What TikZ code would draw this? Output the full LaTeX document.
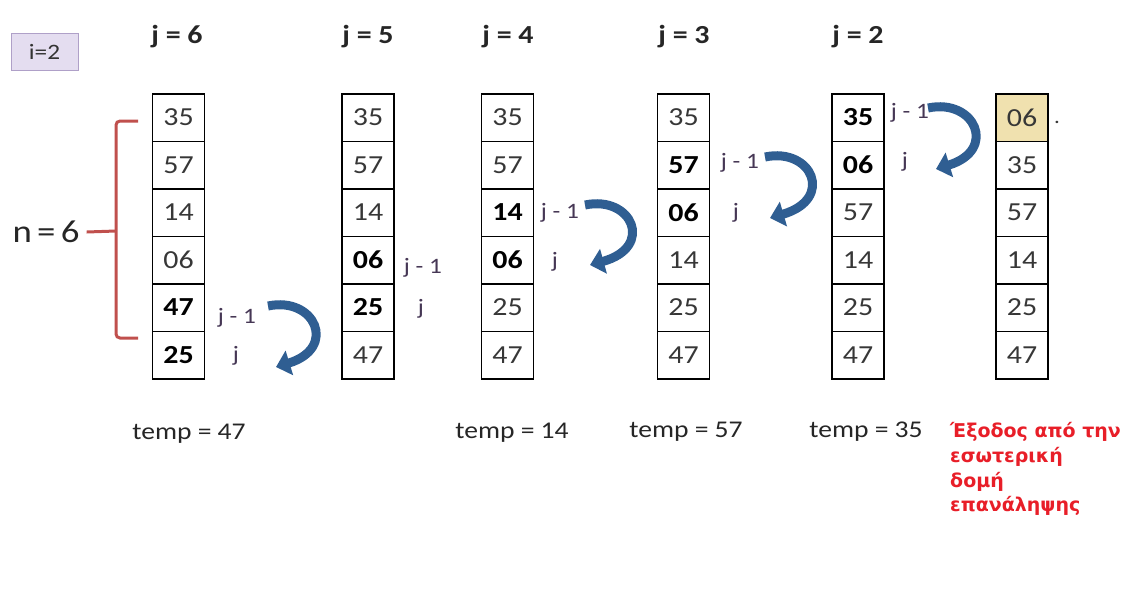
\documentclass[tikz,border=0pt]{standalone}
\usepackage{fontspec}
\setmainfont{Carlito}[FakeStretch=1.15]
\newfontfamily\grk{DejaVu Sans}
\usetikzlibrary{arrows.meta}
\definecolor{numgray}{RGB}{55,55,55}
\definecolor{arrowblue}{RGB}{47,94,146}
\definecolor{bracered}{RGB}{192,80,77}
\definecolor{exitred}{RGB}{232,30,40}
\definecolor{lav}{RGB}{228,221,240}
\definecolor{lavline}{RGB}{175,160,200}
\definecolor{tanfill}{RGB}{240,225,175}
\definecolor{jlab}{RGB}{70,55,85}
\begin{document}
\begin{tikzpicture}[x=1pt,y=-1pt,
  cell/.style={draw, line width=1.6pt, minimum width=52pt, minimum height=47.5pt, inner sep=0pt, anchor=north},
  num/.style={cell, text=numgray, font=\fontsize{26}{26}\selectfont},
  bnum/.style={cell, text=black, font=\bfseries\fontsize{26}{26}\selectfont},
  tnum/.style={num, fill=tanfill},
  head/.style={font=\bfseries\fontsize{26}{26}\selectfont, text=black!85},
  jl/.style={font=\fontsize{22}{22}\selectfont, text=jlab, inner sep=0pt},
  templ/.style={font=\fontsize{24}{24}\selectfont, text=black!85},
  arr/.style={draw=arrowblue, line width=9pt, -{Triangle[width=25pt,length=14pt]}},
  bracel/.style={draw=bracered, line width=3pt, rounded corners=4pt},
  ibox/.style={draw=lavline, fill=lav, line width=1pt, minimum width=67pt, minimum height=37pt, font=\fontsize{22}{22}\selectfont, text=black!80}
]
\useasboundingbox (0,0) rectangle (1129,595);

% i box
\node[ibox] (ibox) at (44.5,51.5) {i=2};

% headers
\node[head] (h6) at (177,37) {j = 6};
\node[head] (h5) at (368,37) {j = 5};
\node[head] (h4) at (508,37) {j = 4};
\node[head] (h3) at (684,37) {j = 3};
\node[head] (h2) at (858,37) {j = 2};

% columns
\foreach \c/\x/\vals in {
  1/178.5/{35/num,57/num,14/num,06/num,47/bnum,25/bnum},
  2/368/{35/num,57/num,14/num,06/bnum,25/bnum,47/num},
  3/507.5/{35/num,57/num,14/bnum,06/bnum,25/num,47/num},
  4/683.5/{35/num,57/bnum,06/bnum,14/num,25/num,47/num},
  5/858/{35/bnum,06/bnum,57/num,14/num,25/num,47/num},
  6/1022/{06/tnum,35/num,57/num,14/num,25/num,47/num}}{
  \foreach \v/\s [count=\r] in \vals {
    \node[\s] (c\c-\r) at (\x,{93+47.5*(\r-1)}) {\v};
  }
}
\node[font=\fontsize{20}{20}\selectfont, text=numgray] (dot) at (1057,122) {.};

% brace and n
\node[font=\fontsize{32}{32}\selectfont, text=black!85, inner sep=1pt] (n) at (46,232) {n\,=\,6};
\coordinate (bm) at (116,231);
\draw[bracel] (138,121) -- (116,121) -- (116,338) -- (138,338);
\draw[bracel] ([xshift=6pt]n.east) -- (bm);

% j labels
\node[jl] (l1a) at (237,318) {j - 1};
\node[jl] (l1b) at (236,356) {j};
\node[jl] (l2a) at (423,268) {j - 1};
\node[jl] (l2b) at (421,309) {j};
\node[jl] (l3a) at (560,213) {j - 1};
\node[jl] (l3b) at (555,262) {j};
\node[jl] (l4a) at (740,163) {j - 1};
\node[jl] (l4b) at (736,213) {j};
\node[jl] (l5a) at (910,113) {j - 1};
\node[jl] (l5b) at (905,162) {j};

% arrows
\coordinate (a1s) at (268,306); \coordinate (a1e) at (276,367);
\coordinate (a3s) at (585,205); \coordinate (a3e) at (590,265);
\coordinate (a4s) at (765,157); \coordinate (a4e) at (770,218);
\coordinate (a5s) at (928,108); \coordinate (a5e) at (936,169);
\draw[arr] (a1s) .. controls (315,296) and (338,348) .. (a1e);
\draw[arr] (a3s) .. controls (632,195) and (655,247) .. (a3e);
\draw[arr] (a4s) .. controls (812,147) and (835,199) .. (a4e);
\draw[arr] (a5s) .. controls (975,98) and (998,150) .. (a5e);

% temp labels
\node[templ] (t1) at (189,434) {temp = 47};
\node[templ] (t3) at (512,433) {temp = 14};
\node[templ] (t4) at (686,432) {temp = 57};
\node[templ] (t5) at (866,432) {temp = 35};

% exit text
\node[anchor=north west, align=left, inner sep=0pt, text=exitred,
  font=\grk\bfseries\fontsize{19}{24.8}\selectfont] (exit) at (950,422)
  {Έξοδος από την\\εσωτερική\\δομή\\επανάληψης};
\end{tikzpicture}
\end{document}
